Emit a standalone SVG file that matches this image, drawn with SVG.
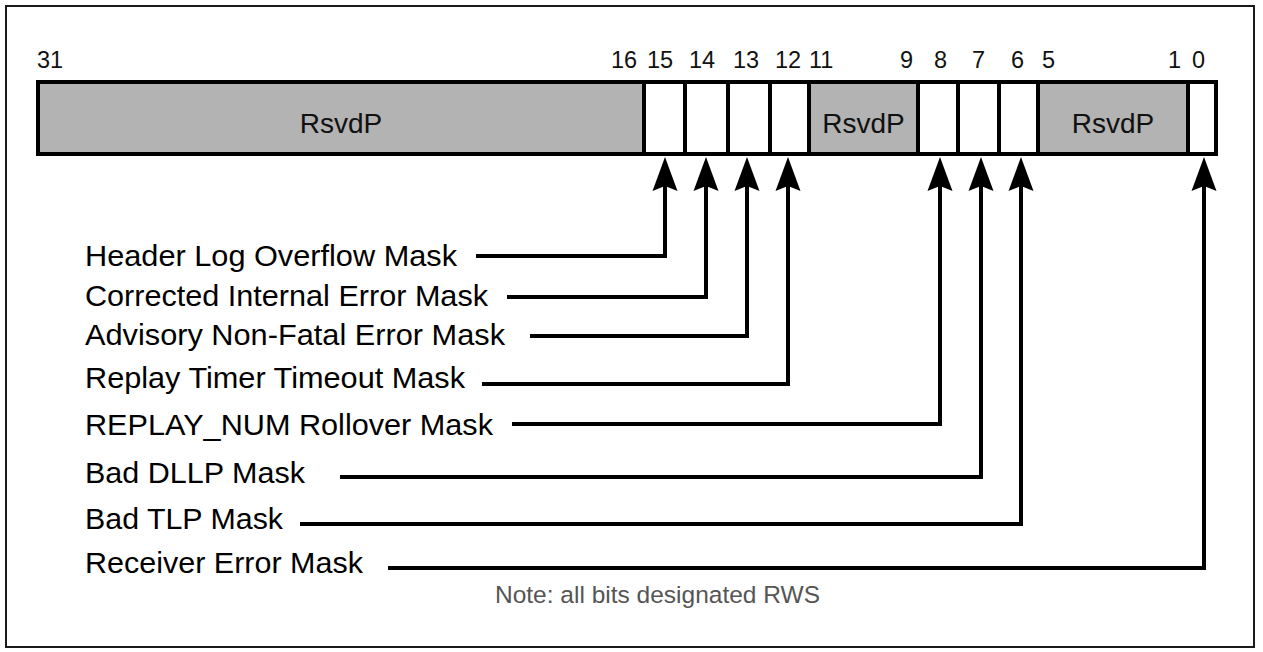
<svg xmlns="http://www.w3.org/2000/svg" width="1263" height="652" viewBox="0 0 1263 652">
  <style>
    .frame { fill: #ffffff; stroke: #1a1a1a; stroke-width: 2; }
    .rsvd { fill: #b3b3b3; }
    .cell { fill: #ffffff; }
    .box { fill: none; stroke: #000; stroke-width: 4; }
    .div { stroke: #000; stroke-width: 4; }
    .bit { font-family: "Liberation Sans", Arial, sans-serif; font-size: 23.5px; fill: #111; }
    .rl { font-family: "Liberation Sans", Arial, sans-serif; font-size: 28px; fill: #111; text-anchor: middle; }
    .lbl { font-family: "Liberation Sans", Arial, sans-serif; font-size: 29px; fill: #000; }
    .note { font-family: "Liberation Sans", Arial, sans-serif; font-size: 24.5px; fill: #555; }
    .conn { fill: none; stroke: #000; stroke-width: 4; stroke-linejoin: miter; marker-end: url(#ah); }
  </style>
  <defs>
    <marker id="ah" markerUnits="userSpaceOnUse" orient="auto" refX="-13" refY="0" markerWidth="40" markerHeight="30" overflow="visible">
      <path d="M0,0 L-34,-12.5 L-29,0 L-34,12.5 Z" fill="#000"/>
    </marker>
  </defs>

  <rect class="frame" x="6" y="6" width="1248" height="641"/>

  <g id="register">
    <rect class="rsvd" x="38" y="82" width="606" height="72"/>
    <rect class="cell" x="644" y="82" width="165" height="72"/>
    <rect class="rsvd" x="809" y="82" width="109" height="72"/>
    <rect class="cell" x="918" y="82" width="120" height="72"/>
    <rect class="rsvd" x="1038" y="82" width="150" height="72"/>
    <rect class="cell" x="1188" y="82" width="28" height="72"/>
    <g class="div">
      <line x1="644" y1="82" x2="644" y2="154"/>
      <line x1="685" y1="82" x2="685" y2="154"/>
      <line x1="728" y1="82" x2="728" y2="154"/>
      <line x1="770" y1="82" x2="770" y2="154"/>
      <line x1="809" y1="82" x2="809" y2="154"/>
      <line x1="918" y1="82" x2="918" y2="154"/>
      <line x1="958" y1="82" x2="958" y2="154"/>
      <line x1="999" y1="82" x2="999" y2="154"/>
      <line x1="1038" y1="82" x2="1038" y2="154"/>
      <line x1="1188" y1="82" x2="1188" y2="154"/>
    </g>
    <rect class="box" x="38" y="82" width="1178" height="72"/>
    <text class="rl" x="341" y="133">RsvdP</text>
    <text class="rl" x="863.5" y="133">RsvdP</text>
    <text class="rl" x="1113" y="133">RsvdP</text>
  </g>

  <g id="bit-numbers" class="bit">
    <text x="37" y="68">31</text>
    <text x="611" y="68">16</text>
    <text x="647" y="68">15</text>
    <text x="689" y="68">14</text>
    <text x="733" y="68">13</text>
    <text x="775" y="68">12</text>
    <text x="809" y="68">11</text>
    <text x="900" y="68">9</text>
    <text x="934" y="68">8</text>
    <text x="972" y="68">7</text>
    <text x="1011" y="68">6</text>
    <text x="1042" y="68">5</text>
    <text x="1168" y="68">1</text>
    <text x="1192" y="68">0</text>
  </g>

  <g id="labels" class="lbl">
    <g id="n-header-log"><text x="85" y="266" textLength="372" lengthAdjust="spacingAndGlyphs">Header Log Overflow Mask</text></g>
    <g id="n-corrected"><text x="85" y="306" textLength="403" lengthAdjust="spacingAndGlyphs">Corrected Internal Error Mask</text></g>
    <g id="n-advisory"><text x="85" y="345" textLength="420" lengthAdjust="spacingAndGlyphs">Advisory Non-Fatal Error Mask</text></g>
    <g id="n-replay-timer"><text x="85" y="388" textLength="380" lengthAdjust="spacingAndGlyphs">Replay Timer Timeout Mask</text></g>
    <g id="n-replay-num"><text x="85" y="435" textLength="408" lengthAdjust="spacingAndGlyphs">REPLAY_NUM Rollover Mask</text></g>
    <g id="n-bad-dllp"><text x="85" y="483" textLength="220" lengthAdjust="spacingAndGlyphs">Bad DLLP Mask</text></g>
    <g id="n-bad-tlp"><text x="85" y="529" textLength="198" lengthAdjust="spacingAndGlyphs">Bad TLP Mask</text></g>
    <g id="n-receiver"><text x="85" y="573" textLength="278" lengthAdjust="spacingAndGlyphs">Receiver Error Mask</text></g>
  </g>

  <g id="connectors" class="conn">
    <path d="M476,256 H665 V170"/>
    <path d="M507,297 H706 V170"/>
    <path d="M530,336 H747 V170"/>
    <path d="M482,384 H788 V170"/>
    <path d="M512,424 H940 V170"/>
    <path d="M340,477 H981 V170"/>
    <path d="M300,524 H1021 V170"/>
    <path d="M388,568 H1204 V170"/>
  </g>

  <text id="note" class="note" x="495" y="603" textLength="325" lengthAdjust="spacingAndGlyphs">Note: all bits designated RWS</text>
</svg>
